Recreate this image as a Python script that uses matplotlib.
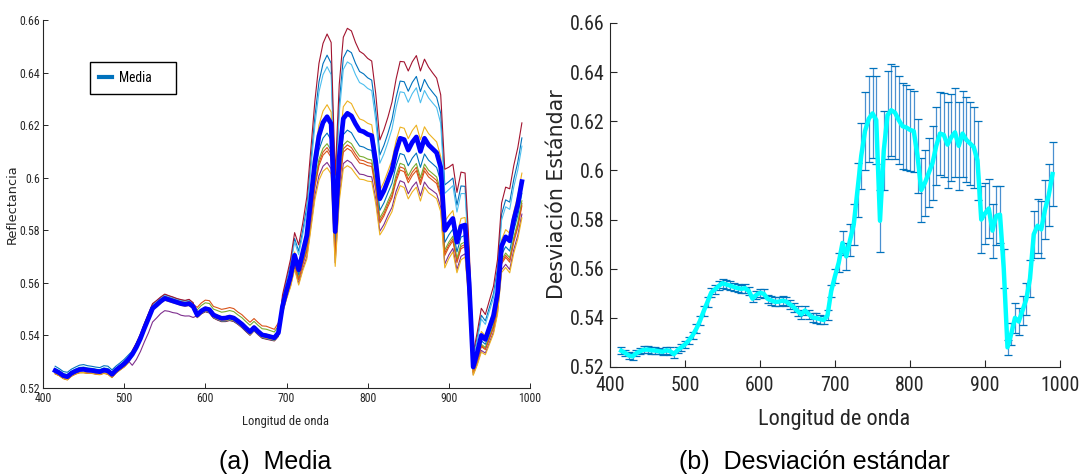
import numpy as np
import matplotlib
matplotlib.use('Agg')
import matplotlib.pyplot as plt
from matplotlib import font_manager as fm
from matplotlib.font_manager import FontProperties
from matplotlib.lines import Line2D

# ---------------- data ----------------
wavelength = np.arange(415, 991, 5)

mean_refl = [
    0.5266, 0.5258, 0.5247, 0.5243, 0.5256, 0.5264, 0.5270, 0.5271, 0.5268, 0.5267,
    0.5264, 0.5262, 0.5268, 0.5265, 0.5252, 0.5268, 0.5280, 0.5292, 0.5308, 0.5328,
    0.5355, 0.5388, 0.5428, 0.5465, 0.5503, 0.5516, 0.5530, 0.5541, 0.5536, 0.5531,
    0.5526, 0.5521, 0.5518, 0.5521, 0.5510, 0.5478, 0.5493, 0.5502, 0.5498, 0.5478,
    0.5471, 0.5465, 0.5466, 0.5470, 0.5466, 0.5455, 0.5443, 0.5428, 0.5414, 0.5430,
    0.5415, 0.5402, 0.5399, 0.5395, 0.5391, 0.5410, 0.5510, 0.5570, 0.5625, 0.5705,
    0.5650, 0.5715, 0.5780, 0.5920, 0.6060, 0.6160, 0.6210, 0.6232, 0.6205, 0.5795,
    0.6080, 0.6225, 0.6245, 0.6235, 0.6205, 0.6180, 0.6175, 0.6165, 0.6160, 0.6060,
    0.5920, 0.5950, 0.5990, 0.6030, 0.6100, 0.6150, 0.6145, 0.6105, 0.6135, 0.6155,
    0.6100, 0.6150, 0.6125, 0.6110, 0.6095, 0.6040, 0.5800, 0.5825, 0.5845, 0.5755,
    0.5815, 0.5820, 0.5600, 0.5280, 0.5335, 0.5400, 0.5385, 0.5430, 0.5475, 0.5560,
    0.5740, 0.5775, 0.5760, 0.5840, 0.5900, 0.5985,
]

std_refl = [
    0.0014, 0.0013, 0.0013, 0.0014, 0.0013, 0.0013, 0.0014, 0.0015, 0.0014, 0.0013,
    0.0013, 0.0013, 0.0014, 0.0015, 0.0014, 0.0013, 0.0013, 0.0014, 0.0014, 0.0016,
    0.0018, 0.0019, 0.0020, 0.0021, 0.0020, 0.0019, 0.0018, 0.0018, 0.0017, 0.0017,
    0.0016, 0.0017, 0.0017, 0.0018, 0.0016, 0.0015, 0.0016, 0.0017, 0.0018, 0.0017,
    0.0018, 0.0018, 0.0019, 0.0019, 0.0019, 0.0018, 0.0019, 0.0019, 0.0019, 0.0018,
    0.0018, 0.0018, 0.0019, 0.0018, 0.0017, 0.0020, 0.0025, 0.0030, 0.0038, 0.0050,
    0.0055, 0.0065, 0.0085, 0.0110, 0.0135, 0.0160, 0.0175, 0.0183, 0.0180, 0.0125,
    0.0160, 0.0180, 0.0188, 0.0188, 0.0180, 0.0175, 0.0172, 0.0168, 0.0165, 0.0150,
    0.0130, 0.0135, 0.0140, 0.0150, 0.0160, 0.0170, 0.0172, 0.0175, 0.0178, 0.0180,
    0.0178, 0.0175, 0.0172, 0.0168, 0.0165, 0.0160, 0.0135, 0.0125, 0.0120, 0.0110,
    0.0120, 0.0115, 0.0080, 0.0030, 0.0045, 0.0060, 0.0055, 0.0060, 0.0065, 0.0075,
    0.0095, 0.0110, 0.0115, 0.0120, 0.0125, 0.0130,
]

# individual spectra: position of each sample relative to the mean, in std units,
# read per spectral segment (segments start at these wavelengths)
segment_starts = [415, 510, 590, 695]
curve_colors = ['#0072BD', '#D95319', '#EDB120', '#7E2F8E', '#77AC30',
                '#4DBEEE', '#A2142F', '#0072BD', '#D95319', '#EDB120']
z_blue_region = [1.2, 0.3, -0.9, -0.3, 0.2, 0.6, -0.8, 0.5, -0.2, -0.8]
z_green_region = [0.8, 0.5, -0.3, -2.6, 0.2, 0.7, 0.9, 0.0, 0.3, -0.4]
z_red_region = [-0.5, 1.9, -0.6, -0.2, 1.3, -0.4, -0.7, -0.6, 0.3, -0.5]
z_nir_region = [1.28, -0.64, 0.25, -0.95, -0.56, 1.04, 1.72, -0.34, -0.71, -1.06]

x_ticks = [400, 500, 600, 700, 800, 900, 1000]
x_tick_labels = ['400', '500', '600', '700', '800', '900', '1000']
y_ticks = [0.52, 0.54, 0.56, 0.58, 0.60, 0.62, 0.64, 0.66]
y_tick_labels = ['0.52', '0.54', '0.56', '0.58', '0.6', '0.62', '0.64', '0.66']

# ---------------- fonts ----------------
entries = fm.fontManager.ttflist
names = {f.name for f in entries}
narrow_family, narrow_stretch = None, 'normal'
for cand in ['Liberation Sans Narrow', 'Arial Narrow', 'Roboto Condensed',
             'Open Sans Condensed', 'Noto Sans Condensed', 'DejaVu Sans Condensed']:
    if cand in names:
        narrow_family = cand
        break
if narrow_family is None:
    for fam in ['Roboto', 'Noto Sans', 'Open Sans', 'Liberation Sans']:
        if any(f.name == fam and str(f.stretch) in ('condensed', 'semi-condensed',
                                                     'extra-condensed')
               for f in entries):
            narrow_family, narrow_stretch = fam, 'condensed'
            break
if narrow_family is None:
    narrow_family = 'Liberation Sans'

W, H = 1080, 474
fig = plt.figure(figsize=(W / 100, H / 100), dpi=100)
renderer = fig.canvas.get_renderer()


def nfp(size):
    return FontProperties(family=narrow_family, stretch=narrow_stretch, size=size)


def fit(s, base, target, slack=1.06):
    t = fig.text(0, 0, s, fontproperties=nfp(base))
    w = t.get_window_extent(renderer).width
    t.remove()
    return base * min(1.0, slack * target / w)


def rect(x0, x1, ytop, ybot):
    return [x0 / W, 1 - ybot / H, (x1 - x0) / W, (ybot - ytop) / H]


def fx(x):
    return x / W


def fy(y):
    return 1 - y / H


axL = fig.add_axes(rect(43, 530, 20, 388))
axR = fig.add_axes(rect(610, 1060, 23, 367))

mean = np.array(mean_refl)
std = np.array(std_refl)
seg = np.searchsorted(segment_starts, wavelength, side='right') - 1
zs = np.array([z_blue_region, z_green_region, z_red_region, z_nir_region])

# ---------------- left: mean + spectra ----------------
for i, c in enumerate(curve_colors):
    axL.plot(wavelength, mean + zs[seg, i] * std, color=c, lw=0.8)
axL.plot(wavelength, mean, color='#0000FF', lw=3.4, solid_joinstyle='round')

leg_size = fit('Media', 10.5, 30, 1.1)
handle = Line2D([], [], color='#0072BD', lw=3)
leg = axL.legend([handle], ['Media'], loc='upper left',
                 bbox_to_anchor=(0.0965, 0.886, 0.1766, 0.0), mode='expand',
                 borderaxespad=0, frameon=True, fancybox=False,
                 edgecolor='black', framealpha=1, handlelength=1.0,
                 handletextpad=0.5, borderpad=0.65, prop=nfp(leg_size))
leg.get_frame().set_linewidth(1.0)

# ---------------- right: error bars ----------------
eb = axR.errorbar(wavelength, mean, yerr=std, fmt='none', ecolor='#0072BD',
                  elinewidth=0.9, capsize=2.6, capthick=0.9)
eb[2][0].set_color('#4a90d0')
axR.plot(wavelength, mean, color='#00FFFF', lw=3.2, solid_joinstyle='round')

# ---------------- axes style ----------------
left_tick_size = fit('0.66', 9.5, 18.3, 1.12)
right_tick_size = fit('0.66', 15, 33.3, 1.05)
for ax, tsize in ((axL, left_tick_size), (axR, right_tick_size)):
    ax.set_xlim(400, 1000)
    ax.set_ylim(0.52, 0.66)
    ax.spines['top'].set_visible(False)
    ax.spines['right'].set_visible(False)
    for s in ('left', 'bottom'):
        ax.spines[s].set_color('#262626')
        ax.spines[s].set_linewidth(0.8)
    ax.set_xticks(x_ticks)
    ax.set_xticklabels(x_tick_labels)
    ax.set_yticks(y_ticks)
    ax.set_yticklabels(y_tick_labels)
    ax.tick_params(direction='in', colors='#262626')
    for lab in ax.get_xticklabels() + ax.get_yticklabels():
        lab.set_fontproperties(nfp(tsize))

axL.tick_params(length=3.5, width=0.7)
axL.tick_params(axis='x', pad=3.0)
axL.tick_params(axis='y', pad=2.2)
axR.tick_params(length=5, width=0.8)
axR.tick_params(axis='x', pad=6.5)
axR.tick_params(axis='y', pad=4)

# ---------------- labels ----------------
fig.text(fx(12.5), fy(204), 'Reflectancia', rotation=90, ha='center', va='center',
         family='DejaVu Sans', fontsize=9.3, color='#262626')
fig.text(fx(286), fy(422), 'Longitud de onda', ha='center', va='center',
         fontproperties=nfp(fit('Longitud de onda', 10, 78, 1.1)), color='#262626')
fig.text(fx(557), fy(194.5), 'Desviación Estándar', rotation=90, ha='center', va='center',
         family='DejaVu Sans', fontsize=14.8, color='#262626')
fig.text(fx(834.5), fy(420), 'Longitud de onda', ha='center', va='center',
         fontproperties=nfp(fit('Longitud de onda', 16, 145, 1.05)), color='#262626')

fig.text(fx(275), fy(462), '(a)  Media', ha='center', va='center',
         family='Liberation Sans', fontsize=18, color='black')
fig.text(fx(814), fy(462), '(b)  Desviación estándar', ha='center', va='center',
         family='Liberation Sans', fontsize=18, color='black')

fig.savefig('out.png', dpi=100)
